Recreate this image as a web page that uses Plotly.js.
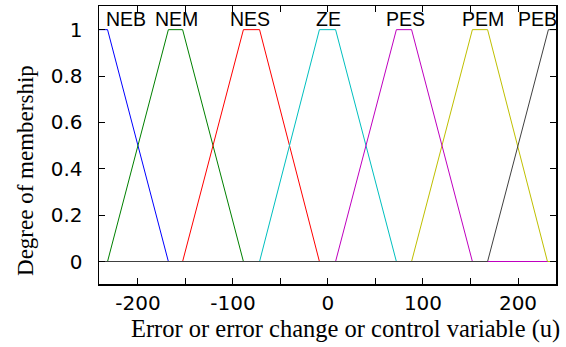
<!DOCTYPE html>
<html>
<head>
<meta charset="utf-8">
<script src="https://cdn.plot.ly/plotly-3.0.1.min.js"></script>
<style>html,body{margin:0;padding:0;background:#fff;}#chart{width:566px;height:347px;}</style>
</head>
<body>
<div id="chart"></div>
<script>
// Membership function names and trapezoid breakpoints (x) with degrees (y)
const names = ["NEB", "NEM", "NES", "ZE", "PES", "PEM", "PEB"];
const colors = ["#0000ff", "#008000", "#ff0000", "#00bfbf", "#bf00bf", "#bfbf00", "#404040"];
const xNEB = [-241, -232, -168, 240];
const yNEB = [1, 1, 0, 0];
const xNEM = [-241, -232, -168, -153, -89, 240];
const yNEM = [0, 0, 1, 1, 0, 0];
const xNES = [-241, -153, -89, -72, -9, 240];
const yNES = [0, 0, 1, 1, 0, 0];
const xZE = [-241, -72, -9, 8, 72, 240];
const yZE = [0, 0, 1, 1, 0, 0];
const xPEM = [-241, 88, 152, 168, 231, 240];
const yPEM = [0, 0, 1, 1, 0, 0];
const xPES = [-241, 8, 72, 88, 152, 231];
const yPES = [0, 0, 1, 1, 0, 0];
const xPEB = [-241, 168, 232, 240];
const yPEB = [0, 0, 1, 1];
// label positions
const labelX = [-213, -159, -82, 1, 82, 163, 221];
const labelY = 1.046;
const xTickVals = [-200, -150, -100, -50, 0, 50, 100, 150, 200];
const xTickText = ["-200", "", "-100", "", "0", "", "100", "", "200"];
const yTickVals = [0, 0.2, 0.4, 0.6, 0.8, 1];
const yTickText = ["0", "0.2", "0.4", "0.6", "0.8", "1"];

const series = [
  {n: "NEB", x: xNEB, y: yNEB, c: colors[0]},
  {n: "NEM", x: xNEM, y: yNEM, c: colors[1]},
  {n: "NES", x: xNES, y: yNES, c: colors[2]},
  {n: "ZE", x: xZE, y: yZE, c: colors[3]},
  {n: "PEM", x: xPEM, y: yPEM, c: colors[5]},
  {n: "PES", x: xPES, y: yPES, c: colors[4]},
  {n: "PEB", x: xPEB, y: yPEB, c: colors[6]}
];
const traces = series.map(s => ({
  type: "scatter", mode: "lines", name: s.n, x: s.x, y: s.y,
  line: {color: s.c, width: 1}, hoverinfo: "skip"
}));

const W = 566, H = 347, mL = 99, mR = 10.3, mT = 6, mB = 63;
const pw = W - mL - mR, ph = H - mT - mB;
const serif = "Liberation Serif, Times New Roman, serif";
const tickFont = {family: "DejaVu Sans, sans-serif", size: 20, color: "#000"};

const annotations = names.map((n, i) => ({
  x: labelX[i], y: labelY, xref: "x", yref: "y", text: n, showarrow: false,
  xanchor: "center", yanchor: "middle",
  font: {family: "Liberation Sans, Arial, sans-serif", size: 19.5, color: "#000"}
}));
annotations.push({
  x: (345 - mL) / pw, y: ((H - 329) - mB) / ph, xref: "paper", yref: "paper",
  text: "Error or error change or control variable (u)",
  showarrow: false, xanchor: "center", yanchor: "middle",
  font: {family: serif, size: 24.5, color: "#000"}
});
annotations.push({
  x: (25 - mL) / pw, y: ((H - 170) - mB) / ph, xref: "paper", yref: "paper",
  text: "Degree of membership", textangle: -90, showarrow: false,
  xanchor: "center", yanchor: "middle",
  font: {family: serif, size: 23, color: "#000"}
});

const layout = {
  width: W, height: H,
  margin: {l: mL, r: mR, t: mT, b: mB, pad: 0},
  paper_bgcolor: "#fff", plot_bgcolor: "#fff",
  showlegend: false,
  font: {family: "Liberation Sans, Arial, sans-serif", size: 19, color: "#000"},
  xaxis: {
    range: [-241, 240], showgrid: false, zeroline: false,
    showline: true, linecolor: "#000", linewidth: 1.5, mirror: "ticks",
    ticks: "inside", ticklen: 6, tickwidth: 1, tickcolor: "#000",
    tickmode: "array", tickvals: xTickVals, ticktext: xTickText,
    tickfont: tickFont, ticklabelstandoff: 0
  },
  yaxis: {
    range: [-0.097, 1.102], showgrid: false, zeroline: false,
    showline: true, linecolor: "#000", linewidth: 1.5, mirror: "ticks",
    ticks: "inside", ticklen: 6, tickwidth: 1, tickcolor: "#000",
    tickmode: "array", tickvals: yTickVals, ticktext: yTickText,
    tickfont: tickFont, ticklabelstandoff: 11
  },
  annotations: annotations
};
Plotly.newPlot("chart", traces, layout, {staticPlot: true, displayModeBar: false});
</script>
</body>
</html>
